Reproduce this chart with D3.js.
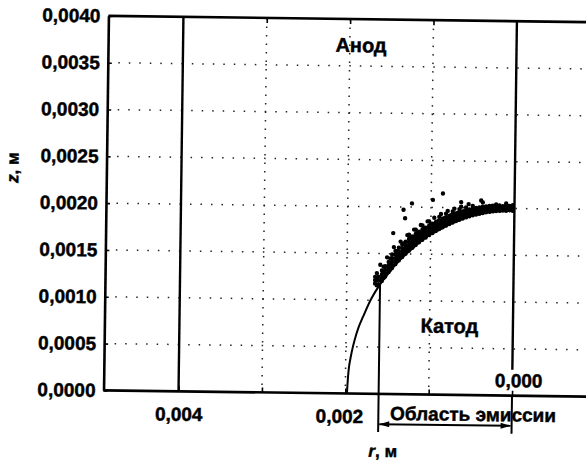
<!DOCTYPE html>
<html>
<head>
<meta charset="utf-8">
<script src="https://cdn.jsdelivr.net/npm/d3@7"></script>
<style>
  html, body { margin: 0; padding: 0; background: #fff; }
  svg { display: block; font-family: "Liberation Sans", Arial, sans-serif; font-weight: bold; }
  svg text { stroke: #000; stroke-width: 0.45px; paint-order: stroke; }
</style>
</head>
<body>
<svg id="chart" width="586" height="463"></svg>
<script>
// ---- axis ticks and grid (metres) ----
const rTicks = [0.004, 0.003, 0.002, 0.001, 0];
const rLabelled = [0.004, 0.002];
const zTicks = [0, 0.0005, 0.001, 0.0015, 0.002, 0.0025, 0.003, 0.0035, 0.004];
const rGrid = [0.003, 0.002, 0.001];
const zGrid = [0.0005, 0.001, 0.0015, 0.002, 0.0025, 0.003, 0.0035];

// ---- cathode tip profile (r, z in metres) ----
const cathodeR = [0.00198, 0.00196, 0.00193, 0.00190, 0.00185, 0.00180, 0.00170, 0.00160,
  0.00150, 0.00140, 0.00130, 0.00120, 0.00110, 0.00100, 0.00090, 0.00080, 0.00070,
  0.00060, 0.00050, 0.00040, 0.00030, 0.00020, 0.00010, 0];
const cathodeZ = [0, 0.00028, 0.00044, 0.00056, 0.00071, 0.00082, 0.00102, 0.00117,
  0.00129, 0.00140, 0.00149, 0.00157, 0.00165, 0.00171, 0.00176, 0.00181, 0.00185,
  0.00189, 0.00192, 0.00194, 0.00196, 0.00197, 0.00198, 0.00198];

// ---- emitted particles: each row is a radius with the heights found there ----
const particleRows = [
  [0.00002, [0.001976, 0.001990, 0.002004, 0.002018, 0.002034]],
  [0.00006, [0.001980, 0.001995, 0.002010, 0.002026]],
  [0.00010, [0.001975, 0.001988, 0.002002, 0.002016, 0.002032, 0.002052]],
  [0.00014, [0.001977, 0.001991, 0.002006, 0.002022]],
  [0.00018, [0.001972, 0.001986, 0.002000, 0.002015, 0.002030]],
  [0.00022, [0.001970, 0.001984, 0.001999, 0.002014, 0.002040]],
  [0.00026, [0.001966, 0.001980, 0.001995, 0.002010, 0.002026]],
  [0.00030, [0.001960, 0.001974, 0.001990, 0.002005, 0.002024]],
  [0.00034, [0.001955, 0.001969, 0.001984, 0.002000, 0.002018]],
  [0.00038, [0.001947, 0.001962, 0.001978, 0.001994, 0.002015, 0.002060]],
  [0.00042, [0.001939, 0.001955, 0.001971, 0.001988, 0.002006]],
  [0.00046, [0.001930, 0.001946, 0.001963, 0.001980, 0.001999]],
  [0.00050, [0.001921, 0.001937, 0.001954, 0.001972, 0.001992, 0.002020]],
  [0.00054, [0.001910, 0.001926, 0.001944, 0.001963, 0.001984]],
  [0.00058, [0.001898, 0.001915, 0.001933, 0.001952, 0.001974, 0.002005]],
  [0.00062, [0.001885, 0.001902, 0.001921, 0.001941, 0.001962]],
  [0.00066, [0.001872, 0.001889, 0.001908, 0.001929, 0.001951, 0.001985]],
  [0.00070, [0.001857, 0.001875, 0.001895, 0.001916, 0.001939]],
  [0.00074, [0.001842, 0.001860, 0.001880, 0.001902, 0.001926, 0.001960]],
  [0.00078, [0.001825, 0.001844, 0.001865, 0.001887, 0.001911]],
  [0.00082, [0.001807, 0.001826, 0.001848, 0.001871, 0.001896, 0.001935]],
  [0.00086, [0.001789, 0.001808, 0.001830, 0.001854, 0.001880, 0.002150]],
  [0.00090, [0.001770, 0.001790, 0.001812, 0.001836, 0.001862, 0.001900]],
  [0.00094, [0.001749, 0.001769, 0.001792, 0.001817, 0.001844]],
  [0.00098, [0.001726, 0.001747, 0.001771, 0.001797, 0.001825, 0.002080]],
  [0.00102, [0.001703, 0.001725, 0.001749, 0.001776, 0.001805, 0.001850]],
  [0.00106, [0.001678, 0.001700, 0.001725, 0.001753, 0.001783]],
  [0.00110, [0.001652, 0.001675, 0.001701, 0.001730, 0.001762, 0.001805]],
  [0.00114, [0.001625, 0.001649, 0.001676, 0.001706, 0.001739]],
  [0.00118, [0.001597, 0.001621, 0.001649, 0.001680, 0.001714, 0.001760]],
  [0.00122, [0.001567, 0.001592, 0.001621, 0.001653, 0.001688]],
  [0.00126, [0.001535, 0.001561, 0.001591, 0.001624, 0.001660, 0.001705]],
  [0.00130, [0.001501, 0.001528, 0.001559, 0.001593, 0.001630]],
  [0.00134, [0.001466, 0.001494, 0.001526, 0.001561, 0.001599]],
  [0.00138, [0.001429, 0.001458, 0.001491, 0.001527, 0.001566]],
  [0.00142, [0.001389, 0.001419, 0.001453, 0.001490, 0.001530]],
  [0.00146, [0.001347, 0.001378, 0.001413, 0.001451, 0.001492]],
  [0.00150, [0.001303, 0.001335, 0.001371, 0.001410]],
  [0.00154, [0.001256, 0.001289, 0.001326, 0.001366]],
  [0.00158, [0.001206, 0.001240, 0.001278, 0.001320]],
  [0.00162, [0.001170, 0.001210, 0.001250]],
  [0.00166, [0.001180, 0.001215, 0.001250]],
  // in-between columns on the flank
  [0.00060, [0.001900, 0.001930, 0.001965]],
  [0.00068, [0.001875, 0.001905, 0.001945]],
  [0.00076, [0.001845, 0.001880, 0.001920]],
  [0.00084, [0.001810, 0.001845, 0.001885]],
  [0.00092, [0.001770, 0.001810, 0.001850]],
  [0.00100, [0.001730, 0.001770, 0.001815]],
  [0.00108, [0.001680, 0.001725, 0.001770]],
  [0.00116, [0.001630, 0.001675, 0.001725]],
  [0.00124, [0.001570, 0.001615, 0.001670]],
  [0.00132, [0.001500, 0.001550, 0.001610]],
  [0.00140, [0.001420, 0.001470, 0.001530]],
  [0.00148, [0.001330, 0.001390, 0.001450]],
  [0.00156, [0.001240, 0.001300, 0.001360]],
  [0.00164, [0.001160, 0.001220, 0.001290]],
  // stray particles above the layer
  [0.00040, [0.002080]],
  [0.00055, [0.002040]],
  [0.00064, [0.002010, 0.002060]],
  [0.00072, [0.001990]],
  [0.00080, [0.001965]],
  [0.00088, [0.001930]],
  [0.00096, [0.001890]],
  [0.00104, [0.001850]],
  [0.00112, [0.001810]],
  [0.00120, [0.001760]],
  [0.00128, [0.001700]],
  [0.00136, [0.001630]],
  [0.00144, [0.001570]],
  [0.00152, [0.001460]],
  [0.00160, [0.001380]],
  [0.00133, [0.001970]],
  [0.00123, [0.002040]],
  [0.00131, [0.001880]],
  [0.00145, [0.001720]]
];

// ---- emission region bounds (metres) ----
const emissionFrom = 0.0016;
const emissionTo = 0;
const emissionTopZ = 0.00117;

// ---- frame ----
const frame = { left: 106, top: 19, right: 590, bottom: 393.5 };
const x = d3.scaleLinear().domain([0.004, 0]).range([181, 514.5]);
const y = d3.scaleLinear().domain([0, 0.004]).range([frame.bottom, frame.top]);

const ru = d3.formatLocale({ decimal: ",", thousands: "\u00a0", grouping: [3], currency: ["", ""] });
const fmtR = ru.format(".3f");
const fmtZ = ru.format(".4f");

const svg = d3.select("#chart");
svg.append("rect").attr("width", 586).attr("height", 463).attr("fill", "#fff");

const defs = svg.append("defs");
["start", "end"].forEach(k => {
  defs.append("marker")
    .attr("id", "arrow-" + k)
    .attr("viewBox", "0 0 10 6")
    .attr("refX", k === "end" ? 10 : 0).attr("refY", 3)
    .attr("markerWidth", 11).attr("markerHeight", 6)
    .attr("markerUnits", "userSpaceOnUse")
    .attr("orient", "auto")
    .append("path")
    .attr("d", k === "end" ? "M0,0 L10,3 L0,6 Z" : "M10,0 L0,3 L10,6 Z")
    .attr("fill", "#000");
});

const g = svg.append("g").attr("transform", "rotate(0.75 346 204)");

// dotted grid
g.append("g").selectAll("line").data(zGrid).join("line")
  .attr("x1", frame.left).attr("x2", frame.right)
  .attr("y1", d => y(d)).attr("y2", d => y(d))
  .attr("stroke", "#222").attr("stroke-width", 1.5)
  .attr("stroke-dasharray", "1.5,9");
g.append("g").selectAll("line").data(rGrid).join("line")
  .attr("x1", d => x(d)).attr("x2", d => x(d))
  .attr("y1", frame.top).attr("y2", frame.bottom)
  .attr("stroke", "#222").attr("stroke-width", 1.5)
  .attr("stroke-dasharray", "1.5,7");

// frame lines
g.append("line").attr("x1", frame.left).attr("x2", frame.right)
  .attr("y1", frame.top).attr("y2", frame.top)
  .attr("stroke", "#000").attr("stroke-width", 2.6);
g.append("line").attr("x1", frame.left).attr("x2", frame.right)
  .attr("y1", frame.bottom).attr("y2", frame.bottom)
  .attr("stroke", "#000").attr("stroke-width", 2.6);

// solid verticals at r = 0.004 and r = 0
g.append("line").attr("x1", x(0.004)).attr("x2", x(0.004))
  .attr("y1", frame.top).attr("y2", frame.bottom)
  .attr("stroke", "#000").attr("stroke-width", 2.4);
g.append("line").attr("x1", x(0)).attr("x2", x(0))
  .attr("y1", frame.top).attr("y2", frame.bottom - 26)
  .attr("stroke", "#000").attr("stroke-width", 2.4);

// left axis
const yAxis = g.append("g").attr("transform", `translate(${frame.left},0)`)
  .call(d3.axisLeft(y).tickValues(zTicks).tickSize(-4).tickSizeOuter(0).tickPadding(8).tickFormat(fmtZ));
yAxis.select(".domain").attr("stroke", "#000").attr("stroke-width", 2.6);
yAxis.selectAll(".tick line").attr("stroke", "#000").attr("stroke-width", 1.6);
yAxis.selectAll(".tick text")
  .attr("font-family", "'Liberation Sans', Arial, sans-serif")
  .attr("font-weight", "bold").attr("font-size", 19).attr("fill", "#000");

// bottom axis
const xAxis = g.append("g").attr("transform", `translate(0,${frame.bottom})`)
  .call(d3.axisBottom(x).tickValues(rTicks).tickSize(-5).tickSizeOuter(0).tickPadding(16)
    .tickFormat(d => rLabelled.includes(d) ? fmtR(d) : ""));
xAxis.select(".domain").remove();
xAxis.selectAll(".tick line").attr("stroke", "#000").attr("stroke-width", 1.6);
xAxis.selectAll(".tick text")
  .attr("font-family", "'Liberation Sans', Arial, sans-serif")
  .attr("font-weight", "bold").attr("font-size", 19).attr("fill", "#000")
  .attr("dx", d => d === 0.002 ? -6 : 0);

// top ticks
const topAxis = g.append("g").attr("transform", `translate(0,${frame.top})`)
  .call(d3.axisTop(x).tickValues(rGrid).tickSize(-5).tickFormat(""));
topAxis.select(".domain").remove();
topAxis.selectAll(".tick line").attr("stroke", "#000").attr("stroke-width", 1.6);

// cathode surface
const profile = cathodeR.map((r, i) => [r, cathodeZ[i]]);
g.append("path").datum(profile)
  .attr("d", d3.line().x(d => x(d[0])).y(d => y(d[1])).curve(d3.curveCatmullRom))
  .attr("fill", "none").attr("stroke", "#000").attr("stroke-width", 2);

// particles
const particles = particleRows.flatMap(([r, zs]) => zs.map(z => [r, z]));
g.append("g").selectAll("circle").data(particles).join("circle")
  .attr("cx", d => x(d[0])).attr("cy", d => y(d[1])).attr("r", 2.2).attr("fill", "#000");

// emission region bracket
const bracketY = 423.7, bracketBottom = 431.5;
g.append("line").attr("x1", x(emissionFrom)).attr("x2", x(emissionFrom))
  .attr("y1", y(emissionTopZ)).attr("y2", bracketBottom)
  .attr("stroke", "#000").attr("stroke-width", 2);
g.append("line").attr("x1", x(emissionTo)).attr("x2", x(emissionTo))
  .attr("y1", frame.bottom).attr("y2", bracketBottom)
  .attr("stroke", "#000").attr("stroke-width", 2);
g.append("line").attr("x1", x(emissionFrom) + 1).attr("x2", x(emissionTo) - 1)
  .attr("y1", bracketY).attr("y2", bracketY)
  .attr("stroke", "#000").attr("stroke-width", 2)
  .attr("marker-start", "url(#arrow-start)").attr("marker-end", "url(#arrow-end)");

// labels
const label = (txt, lx, ly, size, anchor) => g.append("text")
  .attr("x", lx).attr("y", ly).attr("font-size", size)
  .attr("text-anchor", anchor || "middle").attr("fill", "#000").text(txt);

label("Анод", 359, 52, 20);
label("Катод", 451, 331.5, 20);
label("Область эмиссии", 392.8, 419.3, 19, "start");
label(fmtR(0), 521, 385, 19);

const rLab = g.append("text").attr("x", 386).attr("y", 456.5).attr("font-size", 17)
  .attr("text-anchor", "middle").attr("fill", "#000");
rLab.append("tspan").attr("font-style", "italic").text("r");
rLab.append("tspan").text(", м");

const zLab = g.append("text").attr("transform", "translate(18,172) rotate(-90)")
  .attr("font-size", 17).attr("text-anchor", "middle").attr("fill", "#000");
zLab.append("tspan").attr("font-style", "italic").text("z");
zLab.append("tspan").text(", м");
</script>
</body>
</html>
